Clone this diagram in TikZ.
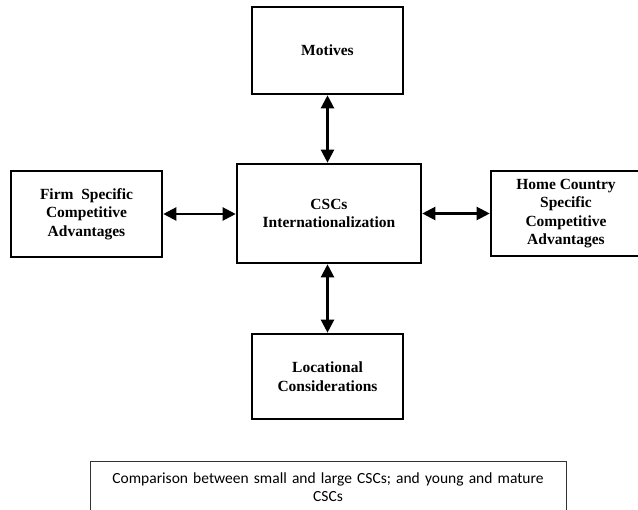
\documentclass[tikz,border=0pt]{standalone}
\usepackage{fontspec}
\setmainfont{Liberation Serif}
\newfontfamily\carl{Carlito}
\usetikzlibrary{arrows.meta}
\tikzset{
  box/.style={draw=black, line width=2.6pt, fill=white, align=center, inner sep=0pt,
    font=\bfseries\fontsize{15.5}{18.5}\selectfont},
  link/.style={line width=2.2pt, {Triangle[length=13pt,width=13pt]}-{Triangle[length=13pt,width=13pt]}}
}
\begin{document}
\begin{tikzpicture}[x=1pt,y=1pt]
\useasboundingbox (0,0) rectangle (638,-510);
\clip (0,0) rectangle (638,-510);
\node[box, minimum width=151pt, minimum height=87pt] (mot) at (327.5,-50.5) {Motives};
\node[box, minimum width=184pt, minimum height=99pt] (csc) at (329,-213.5) {CSCs\\Internationalization};
\node[box, minimum width=151pt, minimum height=86pt] (firm) at (86.5,-214) {Firm\ \ Specific\\Competitive\\Advantages};
\node[box, minimum width=150pt, minimum height=85pt] (home) at (566,-213.5) {Home Country\\Specific\\Competitive\\Advantages};
\node[box, minimum width=151pt, minimum height=85pt] (loc) at (327.5,-376.5) {Locational\\Considerations};
\draw[link] (mot.south) -- (mot.south |- csc.north);
\draw[link] (loc.north) -- (loc.north |- csc.south);
\draw[link] (firm.east) -- (firm.east -| csc.west);
\draw[link] (home.west) -- (home.west -| csc.east);
\draw[draw=black!80, line width=1pt] (90,-530) -- (90,-462) -- (566,-462) -- (566,-530);
\node[font=\carl\fontsize{15.5}{18}\selectfont, align=center, text width=470pt, inner sep=0pt] (cmp) at (328,-487)
  {Comparison between small and large CSCs; and young and mature\\CSCs};
\end{tikzpicture}
\end{document}
